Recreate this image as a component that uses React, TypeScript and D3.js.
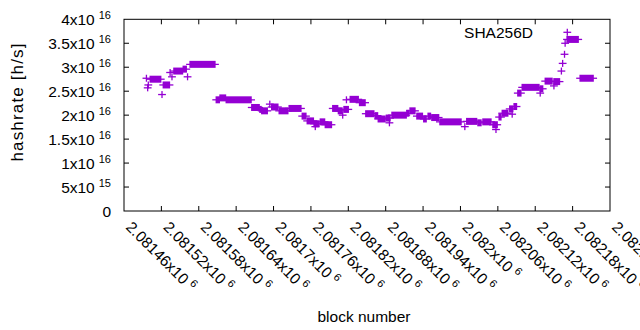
import React from 'react';
import * as d3 from 'd3';

// ---- data ----
const xTickValues = [2081460, 2081520, 2081580, 2081640, 2081700, 2081760, 2081820, 2081880, 2081940, 2082000, 2082060, 2082120, 2082180, 2082240];
const xTickMantissa = ['2.08146', '2.08152', '2.08158', '2.08164', '2.0817', '2.08176', '2.08182', '2.08188', '2.08194', '2.082', '2.08206', '2.08212', '2.08218', '2.08224'];
const xTickExponent = '6';
const yTickValues = [0, 5e15, 1e16, 1.5e16, 2e16, 2.5e16, 3e16, 3.5e16, 4e16];
const yTickMantissa = ['0', '5x10', '1x10', '1.5x10', '2x10', '2.5x10', '3x10', '3.5x10', '4x10'];
const yTickExponent = ['', '15', '16', '16', '16', '16', '16', '16', '16'];

// runs of blocks with the same hashrate estimate: first block, last block, value (h/s)
const runStart = [2081496, 2081498, 2081499, 2081502, 2081521, 2081523, 2081534, 2081537, 2081540, 2081555, 2081562, 2081566, 2081608, 2081614, 2081624, 2081665, 2081678, 2081681, 2081694, 2081697, 2081709, 2081725, 2081746, 2081754, 2081765, 2081767, 2081775, 2081783, 2081795, 2081804, 2081811, 2081813, 2081817, 2081823, 2081838, 2081848, 2081863, 2081868, 2081881, 2081886, 2081890, 2081914, 2081919, 2081930, 2081941, 2081948, 2081954, 2081967, 2082007, 2082010, 2082028, 2082036, 2082052, 2082057, 2082062, 2082067, 2082079, 2082083, 2082086, 2082092, 2082099, 2082128, 2082128, 2082136, 2082150, 2082150, 2082162, 2082164, 2082167, 2082168, 2082171, 2082192];
const runEnd = [2081496, 2081498, 2081499, 2081519, 2081521, 2081533, 2081534, 2081537, 2081554, 2081560, 2081562, 2081606, 2081613, 2081623, 2081664, 2081677, 2081680, 2081690, 2081694, 2081707, 2081723, 2081744, 2081752, 2081764, 2081773, 2081767, 2081782, 2081793, 2081803, 2081810, 2081811, 2081820, 2081817, 2081836, 2081847, 2081861, 2081867, 2081879, 2081887, 2081886, 2081913, 2081917, 2081927, 2081939, 2081945, 2081952, 2081965, 2082001, 2082007, 2082026, 2082033, 2082049, 2082059, 2082057, 2082065, 2082076, 2082084, 2082083, 2082090, 2082097, 2082126, 2082132, 2082128, 2082147, 2082159, 2082150, 2082162, 2082164, 2082167, 2082168, 2082189, 2082213];
const runValue = [2.77e16, 2.57e16, 2.63e16, 2.75e16, 2.43e16, 2.63e16, 2.89e16, 2.80e16, 2.92e16, 2.96e16, 2.80e16, 3.06e16, 2.32e16, 2.36e16, 2.32e16, 2.16e16, 2.12e16, 2.09e16, 2.23e16, 2.17e16, 2.09e16, 2.14e16, 1.98e16, 1.88e16, 1.82e16, 1.76e16, 1.86e16, 1.80e16, 2.14e16, 2.09e16, 2.00e16, 2.12e16, 2.32e16, 2.33e16, 2.26e16, 2.03e16, 1.99e16, 1.92e16, 1.94e16, 1.84e16, 2.00e16, 2.04e16, 2.09e16, 1.98e16, 1.92e16, 1.98e16, 1.95e16, 1.86e16, 1.76e16, 1.87e16, 1.84e16, 1.86e16, 1.80e16, 1.70e16, 1.96e16, 2.04e16, 2.13e16, 2.02e16, 2.18e16, 2.46e16, 2.58e16, 2.55e16, 2.46e16, 2.71e16, 2.70e16, 2.61e16, 2.92e16, 3.08e16, 3.27e16, 3.50e16, 3.58e16, 2.77e16];

const seriesName = 'SHA256D';

const W = 640, H = 330;
const M = { left: 124, right: 610, top: 19.3, bottom: 211 };
const COLOR = '#9400D3';
const FONT = '"Liberation Sans", Arial, sans-serif';
const FS = 15.5;
const SUP = 11;

export default function App() {
  const x = d3.scaleLinear().domain([xTickValues[0], xTickValues[xTickValues.length - 1]]).range([M.left, M.right]);
  const y = d3.scaleLinear().domain([0, 4e16]).range([M.bottom, M.top]);
  const tl = 5;
  const ah = 3.9; // horizontal arm
  const av = 3.5; // vertical arm
  const sw = 1.3;

  const runs = runStart.map((s, i) => ({ s, e: runEnd[i], v: runValue[i] }));

  return (
    <svg width={W} height={H} style={{ position: 'absolute', left: 0, top: 0, background: '#fff' }} fontFamily={FONT}>
      <rect x={0} y={0} width={W} height={H} fill="#fff" />
      {/* ticks */}
      {yTickValues.map((v, i) => (
        <g key={'yt' + i}>
          {i > 0 && i < yTickValues.length - 1 && (
            <>
              <line x1={M.left} x2={M.left + tl} y1={y(v)} y2={y(v)} stroke="#000" strokeWidth={1} />
              <line x1={M.right} x2={M.right - tl} y1={y(v)} y2={y(v)} stroke="#000" strokeWidth={1} />
            </>
          )}
          <text x={111} y={y(v) + 5.5} textAnchor="end" fontSize={FS} fill="#000">
            {yTickMantissa[i]}
            {yTickExponent[i] && (
              <tspan fontSize={SUP} dy={-6} dx={4}>{yTickExponent[i]}</tspan>
            )}
          </text>
        </g>
      ))}
      {xTickValues.map((v, i) => (
        <g key={'xt' + i}>
          {i > 0 && i < xTickValues.length - 1 && (
            <>
              <line x1={x(v)} x2={x(v)} y1={M.bottom} y2={M.bottom - tl} stroke="#000" strokeWidth={1} />
              <line x1={x(v)} x2={x(v)} y1={M.top} y2={M.top + tl} stroke="#000" strokeWidth={1} />
            </>
          )}
          <text transform={`translate(${x(v) + 1},${228}) rotate(45)`} fontSize={FS} fill="#000">
            {xTickMantissa[i]}x10
            <tspan fontSize={SUP} dy={-6} dx={4}>{xTickExponent}</tspan>
          </text>
        </g>
      ))}
      {/* frame */}
      <rect x={M.left} y={M.top} width={M.right - M.left} height={M.bottom - M.top} fill="none" stroke="#000" strokeWidth={1} />
      {/* data */}
      <g fill={COLOR} stroke={COLOR}>
        {runs.map((r, i) => {
          const x0 = x(r.s), x1 = x(r.e), yy = y(r.v);
          return (
            <g key={'r' + i}>
              <rect x={x0 - sw / 2} y={yy - av} width={x1 - x0 + sw} height={av * 2} stroke="none" />
              <line x1={x0 - ah} x2={x1 + ah} y1={yy} y2={yy} strokeWidth={sw} />
            </g>
          );
        })}
      </g>
      {/* key */}
      <text x={533} y={37.5} textAnchor="end" fontSize={FS} fill="#000">{seriesName}</text>
      <g stroke={COLOR} strokeWidth={sw}>
        <line x1={567.3 - ah} x2={567.3 + ah} y1={32.3} y2={32.3} />
        <line x1={567.3} x2={567.3} y1={32.3 - av} y2={32.3 + av} />
      </g>
      {/* axis titles */}
      <text transform={`translate(22.5,102.5) rotate(-90)`} textAnchor="middle" fontSize={17} fill="#000" textLength={118} lengthAdjust="spacing">hashrate [h/s]</text>
      <text x={364} y={321.5} textAnchor="middle" fontSize={FS} fill="#000">block number</text>
    </svg>
  );
}
